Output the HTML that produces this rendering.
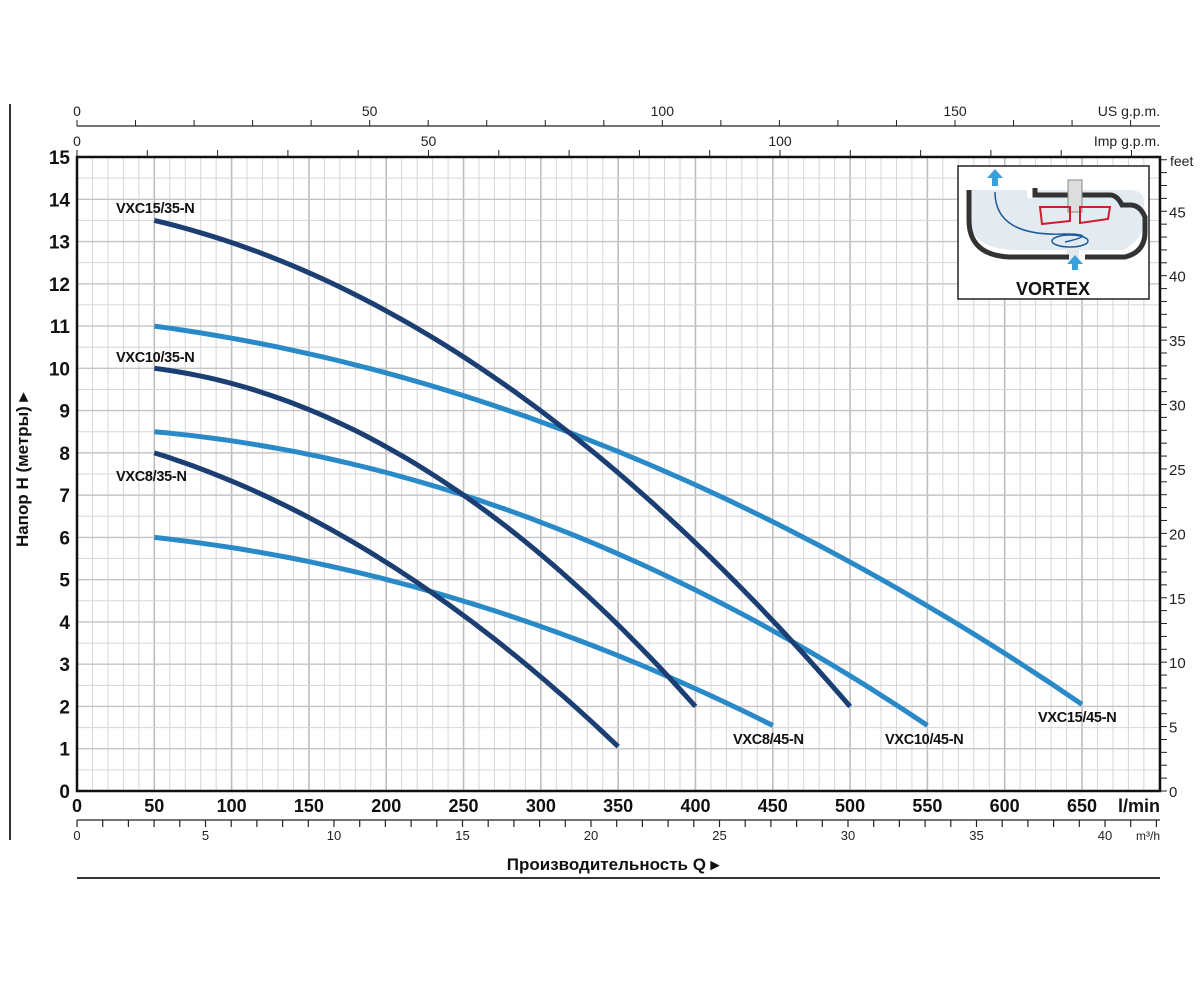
<!DOCTYPE html>
<html><head><meta charset="utf-8"><style>
html,body{margin:0;padding:0;background:#fff;}
svg{display:block;font-family:"Liberation Sans",sans-serif;}
</style></head><body>
<svg id="s" width="1200" height="982" viewBox="0 0 1200 982" xmlns="http://www.w3.org/2000/svg">
<g id="grid"></g>
<g id="axes"></g>
<g id="curves"></g>
<g font-weight="bold" font-size="14.5" fill="#111" style="letter-spacing:-0.3px">
<text x="116" y="213">VXC15/35-N</text>
<text x="116" y="362">VXC10/35-N</text>
<text x="116" y="481">VXC8/35-N</text>
<text x="733" y="744">VXC8/45-N</text>
<text x="885" y="744">VXC10/45-N</text>
<text x="1038" y="722">VXC15/45-N</text>
</g>
<!-- inset -->
<g>
<rect x="958" y="166" width="191" height="133" fill="#fff" stroke="#222" stroke-width="1.5"/>
<path d="M967 190 h60 v8 h8 v-8 h95 q12 0 14 10 v20 q0 18 -20 30 h-45 v10 h-12 v-10 h-50 q-50 0 -50 -40 z" fill="#e3ebf1"/>
<path d="M969 190 v30 q0 35 40 37 h60 M1085 257 h40 q20 -5 20 -25 v-15 q-5 -12 -15 -12 h-8 q-5 -10 -12 -10 h-75 v-7" fill="none" stroke="#333" stroke-width="5"/>
<rect x="1068" y="180" width="14" height="32" fill="#ddd" stroke="#888"/>
<path d="M1040 207 h30 v14 l-28 3 z M1080 207 h30 l-2 12 l-28 4 z" fill="none" stroke="#c8202c" stroke-width="2"/>
<path d="M995 192 q0 45 70 42 q35 0 0 8" fill="none" stroke="#1a5a9a" stroke-width="1.5"/>
<ellipse cx="1070" cy="241" rx="18" ry="6" fill="none" stroke="#1a5a9a" stroke-width="1.5"/>
<path d="M987 178 l8 -9 l8 9 h-5 v8 h-6 v-8 z" fill="#3aa0dc"/>
<path d="M1067 264 l8 -9 l8 9 h-5 v6 h-6 v-6 z" fill="#3aa0dc"/>
<text x="1053" y="295" font-size="18" font-weight="bold" text-anchor="middle" fill="#111">VORTEX</text>
</g>
<text transform="translate(28,470) rotate(-90)" font-size="17" font-weight="bold" text-anchor="middle" fill="#111">Напор H (метры) ▸</text>
<text x="613" y="870" font-size="17" font-weight="bold" text-anchor="middle" fill="#111">Производительность Q ▸</text>
</svg>
<script>
const NS="http://www.w3.org/2000/svg";
function el(p,t,a,txt){const e=document.createElementNS(NS,t);for(const k in a)e.setAttribute(k,a[k]);if(txt!==undefined)e.textContent=txt;document.getElementById(p).appendChild(e);return e;}
const X0=77,Y0=791,XR=1160,YT=157,PX=(1082-77)/650,PY=(791-157)/15;
const xq=q=>X0+q*PX, yh=h=>Y0-h*PY;
for(let q=10;q<700;q+=10){el('grid','line',{x1:xq(q),x2:xq(q),y1:YT,y2:Y0,stroke:q%50==0?'#bdbdbd':'#d6d6d6','stroke-width':q%50==0?1.6:1});}
el('grid','line',{x1:XR-1,x2:XR-1,y1:YT,y2:Y0,stroke:'#d6d6d6'});
for(let h=0.5;h<15;h+=0.5){el('grid','line',{x1:X0,x2:XR,y1:yh(h),y2:yh(h),stroke:h%1==0?'#c4c4c4':'#d6d6d6','stroke-width':h%1==0?1.4:1});}
el('axes','path',{d:`M${X0} ${YT} H${XR} V${Y0} H${X0} Z`,fill:'none',stroke:'#111','stroke-width':2.5});
for(let h=0;h<=15;h++){el('axes','text',{x:70,y:yh(h)+7,'font-size':19,'font-weight':'bold','text-anchor':'end',fill:'#111'},h);}
for(let q=0;q<=650;q+=50){el('axes','text',{x:xq(q),y:812,'font-size':18,'font-weight':'bold','text-anchor':'middle',fill:'#111'},q);}
el('axes','text',{x:1160,y:812,'font-size':18,'font-weight':'bold','text-anchor':'end',fill:'#111'},'l/min');
const PM=(334-77)/10;
el('axes','line',{x1:X0,x2:XR,y1:820,y2:820,stroke:'#222','stroke-width':1.2});
for(let m=0;m*PM+X0<=XR;m++){el('axes','line',{x1:X0+m*PM,x2:X0+m*PM,y1:820,y2:827,stroke:'#222','stroke-width':1.2});if(m%5==0)el('axes','text',{x:X0+m*PM,y:840,'font-size':13,'text-anchor':'middle',fill:'#222'},m);}
el('axes','text',{x:1160,y:840,'font-size':12,'text-anchor':'end',fill:'#222'},'m³/h');
el('axes','line',{x1:X0,x2:XR,y1:878,y2:878,stroke:'#333','stroke-width':2});
el('axes','line',{x1:10,x2:10,y1:104,y2:840,stroke:'#333','stroke-width':2});
const PU=(955-77)/150;
el('axes','line',{x1:X0,x2:XR,y1:126,y2:126,stroke:'#222','stroke-width':1.2});
for(let g=0;g*PU+X0<=XR;g+=10){const x=X0+g*PU;el('axes','line',{x1:x,x2:x,y1:120,y2:126,stroke:'#222'});if(g%50==0)el('axes','text',{x:x,y:116,'font-size':14,'text-anchor':'middle',fill:'#222'},g);}
el('axes','text',{x:1160,y:116,'font-size':14,'text-anchor':'end',fill:'#222'},'US g.p.m.');
const PI=(780-77)/100;
for(let g=0;g*PI+X0<=XR;g+=10){const x=X0+g*PI;el('axes','line',{x1:x,x2:x,y1:150,y2:157,stroke:'#222'});if(g%50==0&&g<=100)el('axes','text',{x:x,y:146,'font-size':14,'text-anchor':'middle',fill:'#222'},g);}
el('axes','text',{x:1160,y:146,'font-size':14,'text-anchor':'end',fill:'#222'},'Imp g.p.m.');
const PF=PY*0.3048;
for(let f=0;Y0-f*PF>=YT;f++){const y=Y0-f*PF;el('axes','line',{x1:XR,x2:XR+7,y1:y,y2:y,stroke:'#222'});if(f%5==0)el('axes','text',{x:XR+9,y:y+6,'font-size':15,fill:'#222'},f);}
el('axes','text',{x:1170,y:166,'font-size':14,fill:'#222'},'feet');
function quad(p){const [[a,ya],[b,yb],[c,yc]]=p;
 return q=>ya*(q-b)*(q-c)/((a-b)*(a-c))+yb*(q-a)*(q-c)/((b-a)*(b-c))+yc*(q-a)*(q-b)/((c-a)*(c-b));}
const C=[
 [[[50,6.0],[228,4.73],[450,1.55]],'#2a8ac8'],
 [[[50,8.5],[250,7.0],[550,1.55]],'#2a8ac8'],
 [[[50,11.0],[323,8.42],[650,2.05]],'#2a8ac8'],
 [[[50,8.0],[228,4.73],[350,1.05]],'#1c3f73'],
 [[[50,10.0],[250,7.0],[400,2.0]],'#1c3f73'],
 [[[50,13.5],[200,11.36],[500,2.0]],'#1c3f73'],
];
for(const [p,col] of C){const f=quad(p);const a=p[0][0],b=p[2][0];let d='';
 for(let i=0;i<=60;i++){const q=a+(b-a)*i/60;d+=(i?'L':'M')+xq(q).toFixed(1)+' '+yh(f(q)).toFixed(1);}
 el('curves','path',{d:d,fill:'none',stroke:col,'stroke-width':5});}
</script>
</body></html>
